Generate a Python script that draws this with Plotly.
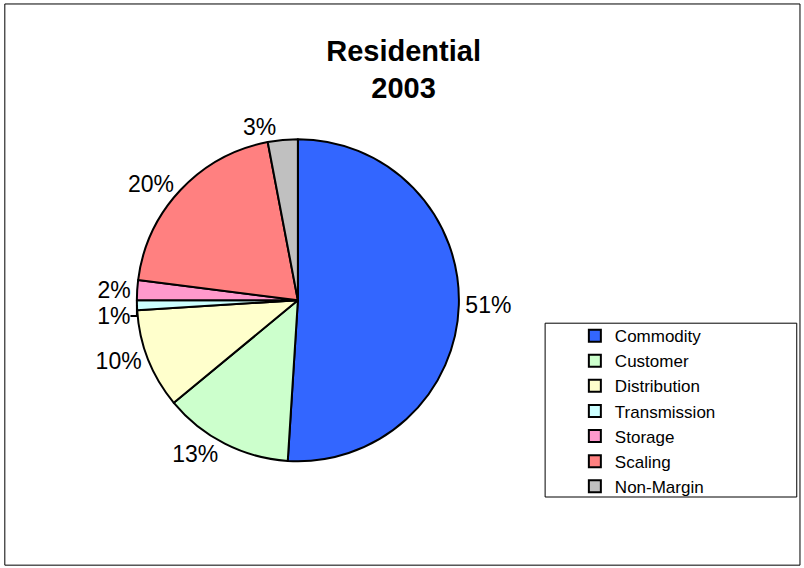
import plotly.graph_objects as go

categorias = ["Commodity", "Customer", "Distribution", "Transmission", "Storage", "Scaling", "Non-Margin"]
valores = [51, 13, 10, 1, 2, 20, 3]
cores = ["#3366FF", "#CCFFCC", "#FFFFCC", "#CCFFFF", "#FF99CC", "#FF8080", "#C0C0C0"]

fig = go.Figure()

fig.add_trace(
    go.Pie(
        labels=categorias,
        values=valores,
        sort=False,
        direction="clockwise",
        rotation=0,
        marker=dict(colors=cores, line=dict(color="black", width=2)),
        textinfo="percent",
        texttemplate="%{percent:.0%}",
        textposition="outside",
        textfont=dict(family="Liberation Sans, Arial", size=23, color="black"),
        domain=dict(x=[0.170, 0.571], y=[0.188, 0.755]),
        hovertemplate="%{label}: %{percent}<extra></extra>",
    )
)

# moldura externa
fig.add_shape(
    type="rect", xref="paper", yref="paper",
    x0=0.006, x1=0.995, y0=0.005, y1=0.993,
    line=dict(color="black", width=1),
)

# caixa da legenda
fig.add_shape(
    type="rect", xref="paper", yref="paper",
    x0=0.678, x1=0.991, y0=0.125, y1=0.431,
    line=dict(color="black", width=1),
    fillcolor="white", layer="below",
)

fig.update_layout(
    width=804,
    height=568,
    paper_bgcolor="white",
    plot_bgcolor="white",
    font=dict(family="Liberation Sans, Arial", color="black"),
    margin=dict(l=0, r=0, t=0, b=0),
    title=dict(
        text="<b>Residential<br>2003</b>",
        x=0.502, xanchor="center",
        y=0.893, yanchor="top",
        font=dict(size=29, color="black"),
    ),
    legend=dict(
        x=0.715, xanchor="left",
        y=0.440, yanchor="top",
        borderwidth=0,
        bgcolor="rgba(0,0,0,0)",
        font=dict(size=17, color="black"),
        itemwidth=30,
    ),
    showlegend=True,
)

fig.write_html(
    "out.html",
    config={"displayModeBar": False},
    post_script="document.body.style.margin='0';",
)
